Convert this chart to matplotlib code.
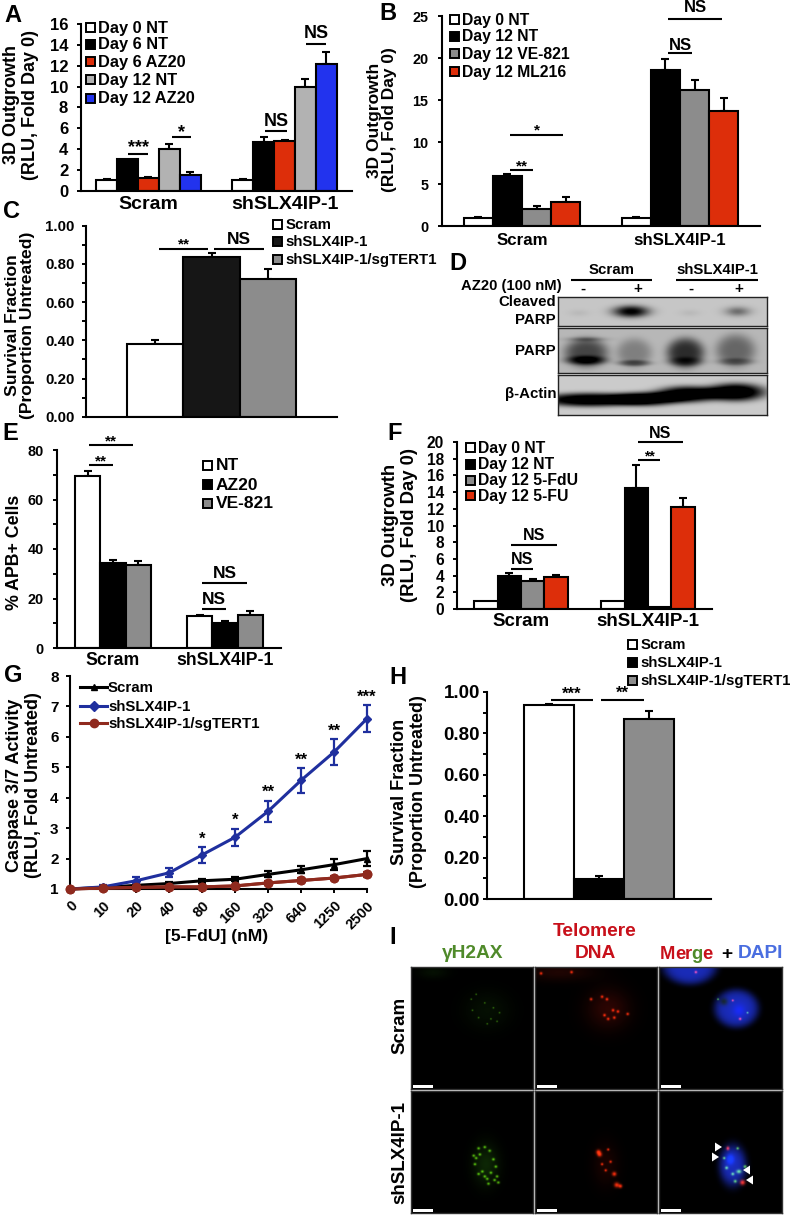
import matplotlib
matplotlib.use("Agg")
import matplotlib.pyplot as plt
from matplotlib.patches import Rectangle, Polygon
import numpy as np

plt.rcParams['font.family'] = ['Liberation Sans', 'DejaVu Sans']
plt.rcParams['font.weight'] = 'bold'

W, H = 791, 1216
RED = '#dd2e0a'
GRAY = '#8c8c8c'
LGRAY = '#b2b2b2'
BLUE = '#2233ee'

# panel A
a_groups = ['Scram', 'shSLX4IP-1']
a_labels = ['Day 0 NT', 'Day 6 NT', 'Day 6 AZ20', 'Day 12 NT', 'Day 12 AZ20']
a_colors = ['white', 'black', RED, LGRAY, BLUE]
a_vals = [[1.0, 3.0, 1.2, 4.0, 1.5], [1.0, 4.7, 4.8, 10.0, 12.2]]
a_errs = [[0.1, 0.0, 0.1, 0.5, 0.3], [0.1, 0.5, 0.1, 0.7, 1.1]]
# panel B
b_labels = ['Day 0 NT', 'Day 12 NT', 'Day 12 VE-821', 'Day 12 ML216']
b_colors = ['white', 'black', GRAY, RED]
b_vals = [[1.0, 5.9, 2.0, 2.9], [1.0, 18.6, 16.2, 13.7]]
b_errs = [[0.1, 0.3, 0.4, 0.6], [0.1, 1.3, 1.2, 1.5]]
# panels C, H
c_labels = ['Scram', 'shSLX4IP-1', 'shSLX4IP-1/sgTERT1']
c_colors = ['white', '#161616', GRAY]
c_vals = [0.38, 0.835, 0.72]
c_errs = [0.02, 0.02, 0.055]
h_colors = ['white', 'black', GRAY]
h_vals = [0.935, 0.097, 0.87]
h_errs = [0.005, 0.012, 0.04]
# panel E
e_labels = ['NT', 'AZ20', 'VE-821']
e_colors = ['white', 'black', GRAY]
e_vals = [[69.5, 34.5, 33.5], [13.0, 10.0, 13.5]]
e_errs = [[2.2, 1.0, 1.5], [0.5, 0.8, 1.5]]
# panel F
f_labels = ['Day 0 NT', 'Day 12 NT', 'Day 12 5-FdU', 'Day 12 5-FU']
f_colors = ['white', 'black', GRAY, RED]
f_vals = [[1.0, 4.0, 3.3, 3.8], [1.0, 14.5, 0.2, 12.2]]
f_errs = [[0.0, 0.3, 0.3, 0.3], [0.0, 2.7, 0.0, 1.1]]
# panel G
g_doses = ['0', '10', '20', '40', '80', '160', '320', '640', '1250', '2500']
g_scram = [1, 1.05, 1.12, 1.18, 1.27, 1.32, 1.48, 1.63, 1.8, 2.0]
g_scram_err = [0, 0.03, 0.05, 0.05, 0.06, 0.07, 0.1, 0.12, 0.18, 0.25]
g_sh = [1, 1.07, 1.27, 1.53, 2.12, 2.7, 3.55, 4.57, 5.5, 6.6]
g_sh_err = [0, 0.05, 0.12, 0.15, 0.25, 0.28, 0.35, 0.4, 0.42, 0.45]
g_sg = [1, 1.03, 1.05, 1.07, 1.07, 1.1, 1.2, 1.28, 1.36, 1.48]
g_sg_err = [0, 0.02, 0.03, 0.03, 0.03, 0.04, 0.05, 0.07, 0.07, 0.08]
g_stars = ['', '', '', '', '*', '*', '**', '**', '**', '***']

fig = plt.figure(figsize=(W / 100, H / 100), dpi=100)


def ax_px(l, t, r, b):
    ax = fig.add_axes([l / W, 1 - b / H, (r - l) / W, (b - t) / H])
    ax.patch.set_alpha(0)
    ax.spines['top'].set_visible(False)
    ax.spines['right'].set_visible(False)
    ax.spines['left'].set_linewidth(1.5)
    ax.spines['bottom'].set_linewidth(1.5)
    return ax


def style_y(ax, lim, major, minor=None, fmt=None, size=10, pad=5):
    ax.set_ylim(*lim)
    ax.set_yticks(major)
    if fmt:
        ax.set_yticklabels([fmt % v for v in major])
    if minor is not None:
        ax.set_yticks(minor, minor=True)
    ax.tick_params(axis='y', which='both', length=3.2, width=1.4, pad=pad, labelsize=size)


def bars(ax, x0, width, vals, errs, colors):
    n = len(vals)
    xs = [x0 + (i - (n - 1) / 2) * width for i in range(n)]
    ax.bar(xs, vals, width=width, color=colors, edgecolor='black', linewidth=1.5, zorder=2)
    for x, v, e in zip(xs, vals, errs):
        if e > 0:
            ax.errorbar(x, v, yerr=[[0], [e]], color='black', capsize=2.6, elinewidth=1.5,
                        capthick=1.5, zorder=1)


def group_panel(box, xlim, vals, errs, colors, width, groups, size=12, pad=5):
    ax = ax_px(*box)
    ax.set_xlim(*xlim)
    for i in range(2):
        bars(ax, i, width, vals[i], errs[i], colors)
    ax.set_xticks([0, 1])
    ax.set_xticklabels(groups, fontsize=size)
    ax.tick_params(axis='x', length=0, pad=pad)
    return ax


# A
ax = group_panel((81, 24, 352, 190.7), (-0.496, 1.496), a_vals, a_errs, a_colors, 0.153, a_groups, size=14, pad=4)
style_y(ax, (0, 16), range(0, 17, 2), size=12, pad=6)
# B
ax = group_panel((442, 16, 760, 226), (-0.506, 1.506), b_vals, b_errs, b_colors, 0.184, a_groups, size=12.2)
style_y(ax, (0, 25), range(0, 26, 5), size=10.4, pad=6.5)
# C
ax = ax_px(86, 225.7, 337, 416.7)
ax.set_xlim(-0.5, 0.5)
bars(ax, 0.0, 0.224, c_vals, c_errs, c_colors)
ax.set_xticks([])
style_y(ax, (0, 1), np.arange(0, 1.01, 0.2), np.arange(0, 1.01, 0.1), '%.2f', size=10.8, pad=5)
# E
ax = group_panel((57, 450, 281, 648), (-0.5, 1.5), e_vals, e_errs, e_colors, 0.225, a_groups, size=12.7, pad=3)
style_y(ax, (0, 80), range(0, 81, 20), range(0, 81, 10), size=10.4, pad=6.5)
# F
ax = group_panel((457, 442, 712, 609), (-0.504, 1.504), f_vals, f_errs, f_colors, 0.185, a_groups, size=13.5, pad=3)
style_y(ax, (0, 20), range(0, 21, 2), size=11.2, pad=6)
# H
ax = ax_px(487, 692, 711, 899)
ax.set_xlim(-0.5, 0.5)
bars(ax, 0.0, 0.223, h_vals, h_errs, h_colors)
ax.set_xticks([])
style_y(ax, (0, 1), np.arange(0, 1.01, 0.2), np.arange(0, 1.01, 0.1), '%.2f', size=13.5, pad=2)

# G
ax = ax_px(70, 676, 367, 889)
xs = np.arange(len(g_doses))
g_series = [(g_scram, g_scram_err, 'black', '^'), (g_sg, g_sg_err, '#8f2a1e', 'o'), (g_sh, g_sh_err, '#1f2f9e', 'D')]
for ys, es, col, mk in g_series:
    ax.errorbar(xs, ys, yerr=es, color=col, marker=mk, ms=6 if mk == 'o' else 4.5, lw=2.2,
                elinewidth=1.6, capsize=3, capthick=1.6, clip_on=False, zorder=3)
ax.plot(xs, g_sg, color='#8f2a1e', marker='o', ms=6, lw=2.2, clip_on=False, zorder=4)
for x, y, e, s in zip(xs, g_sh, g_sh_err, g_stars):
    if s:
        ax.text(x, y + e + 0.02, s, ha='center', va='bottom', fontsize=12, clip_on=False)
ax.set_xlim(0, 9)
ax.set_xticks(xs)
ax.set_xticklabels(g_doses, rotation=45, ha='right', rotation_mode='anchor', fontsize=10.5)
ax.tick_params(axis='x', length=3, width=1.4, pad=4)
style_y(ax, (1, 8), range(1, 9), size=11, pad=5)


def blob_img(w, h, bg, blobs):
    yy, xx = np.mgrid[0:h, 0:w]
    u = (xx + 0.5) / w
    v = (yy + 0.5) / h
    img = np.ones((h, w, 3)) * np.array(bg, dtype=float)
    for cx, cy, sx, sy, col, p in blobs:
        g = np.exp(-(((u - cx) / sx) ** 2 + ((v - cy) / sy) ** 2) ** p)
        img = img + g[..., None] * np.array(col, dtype=float)
    return np.clip(img, 0, 1)


def show(box, img, frame='#222222'):
    l, t, r, b = box
    a = fig.add_axes([l / W, 1 - b / H, (r - l) / W, (b - t) / H])
    a.imshow(img, aspect='auto', interpolation='bilinear')
    a.set_xticks([])
    a.set_yticks([])
    for sp in a.spines.values():
        sp.set_color(frame)
        sp.set_linewidth(1.0)
    return a


# D: western blot strips
dark = lambda k: (-k, -k, -k)
blot1 = [(0.35, 0.5, 0.085, 0.2, dark(0.8), 1.2), (0.86, 0.5, 0.06, 0.16, dark(0.35), 1),
         (0.1, 0.55, 0.05, 0.12, dark(0.05), 1), (0.63, 0.55, 0.05, 0.12, dark(0.05), 1)]
blot2 = [(0.135, 0.55, 0.105, 0.32, dark(0.45), 2), (0.135, 0.72, 0.1, 0.1, dark(0.4), 1.5),
         (0.135, 0.25, 0.09, 0.05, dark(0.2), 1),
         (0.365, 0.55, 0.085, 0.32, dark(0.22), 2), (0.365, 0.78, 0.08, 0.07, dark(0.3), 1.5),
         (0.61, 0.55, 0.09, 0.33, dark(0.55), 2), (0.61, 0.75, 0.09, 0.1, dark(0.2), 1.5),
         (0.85, 0.5, 0.095, 0.36, dark(0.32), 2), (0.85, 0.75, 0.09, 0.08, dark(0.2), 1.5)]
blot3 = [(0.15, 0.62, 0.24, 0.17, dark(0.95), 1.5), (0.42, 0.6, 0.16, 0.17, dark(0.9), 1.5),
         (0.62, 0.48, 0.15, 0.2, dark(0.95), 1.5), (0.85, 0.43, 0.14, 0.22, dark(1.0), 1.5)]
show((558, 297, 767, 326), blob_img(210, 30, (0.78, 0.78, 0.78), blot1))
show((558, 328, 767, 373), blob_img(210, 45, (0.72, 0.72, 0.72), blot2))
show((558, 375, 767, 415), blob_img(210, 40, (0.8, 0.8, 0.8), blot3))

# I: confocal panels
GR = (0.35, 0.75, 0.05)
RD = (0.95, 0.18, 0.05)
BL = (0.1, 0.17, 0.72)
green_a = [(0.62, 0.36, 0.18, 0.15, (0.02, 0.06, 0.01), 1), (0.18, 0.05, 0.12, 0.05, (0.02, 0.06, 0.01), 1)]
for x, y in [(0.49, 0.27), (0.53, 0.23), (0.6, 0.3), (0.67, 0.34), (0.72, 0.38), (0.65, 0.43), (0.55, 0.42), (0.5, 0.36), (0.62, 0.47), (0.7, 0.45)]:
    green_a.append((x, y, 0.006, 0.006, (0.25, 0.55, 0.05), 1))
red_spots_a = [(0.55, 0.25), (0.59, 0.27), (0.46, 0.27), (0.64, 0.36), (0.68, 0.37), (0.57, 0.4), (0.6, 0.43), (0.65, 0.42),
               (0.76, 0.39), (0.3, 0.05), (0.05, 0.06)]
red_a = [(x, y, 0.011, 0.011, RD, 1) for x, y in red_spots_a] + [(0.6, 0.35, 0.17, 0.16, (0.17, 0.02, 0.01), 1), (0.2, 0.05, 0.28, 0.07, (0.12, 0.02, 0.01), 1)]
merge_a = [(0.63, 0.345, 0.18, 0.155, BL, 3), (0.65, 0.36, 0.05, 0.05, (0.0, 0.0, 0.25), 1), (0.53, 0.29, 0.03, 0.03, (0, 0, -0.45), 1),
           (0.25, 0.0, 0.22, 0.15, BL, 3), (0.6, 0.28, 0.008, 0.008, RD, 1), (0.66, 0.43, 0.01, 0.01, RD, 1), (0.48, 0.27, 0.007, 0.007, GR, 1),
           (0.72, 0.38, 0.007, 0.007, GR, 1), (0.3, 0.05, 0.01, 0.01, RD, 1)]
green_b = [(0.61, 0.6, 0.1, 0.16, (0.05, 0.15, 0.02), 1)]
for x, y in [(0.55, 0.47), (0.6, 0.46), (0.64, 0.49), (0.53, 0.55), (0.58, 0.66), (0.65, 0.67), (0.7, 0.7), (0.62, 0.72), (0.69, 0.62),
             (0.56, 0.52), (0.51, 0.53), (0.63, 0.76), (0.71, 0.75), (0.55, 0.68), (0.67, 0.56), (0.52, 0.6), (0.68, 0.73), (0.6, 0.7)]:
    green_b.append((x, y, 0.011, 0.01, GR, 1))
red_b = [(0.58, 0.6, 0.1, 0.17, (0.1, 0.01, 0.0), 1)]
for x, y, s in [(0.52, 0.5, 0.018), (0.53, 0.52, 0.018), (0.6, 0.48, 0.01), (0.62, 0.58, 0.01), (0.65, 0.68, 0.017), (0.67, 0.77, 0.02),
                (0.7, 0.78, 0.015), (0.55, 0.6, 0.01), (0.58, 0.65, 0.01)]:
    red_b.append((x, y, s, s, RD, 1))
merge_b = [(0.6, 0.61, 0.11, 0.17, BL, 2), (0.58, 0.56, 0.03, 0.04, (0, 0.1, 0.5), 1), (0.65, 0.66, 0.02, 0.015, GR, 1),
           (0.68, 0.75, 0.02, 0.02, RD, 1), (0.56, 0.47, 0.012, 0.015, RD, 1), (0.62, 0.74, 0.012, 0.012, GR, 1), (0.55, 0.63, 0.012, 0.012, GR, 1),
           (0.7, 0.62, 0.012, 0.012, GR, 1), (0.6, 0.68, 0.012, 0.012, GR, 1), (0.64, 0.47, 0.01, 0.01, GR, 1), (0.53, 0.55, 0.01, 0.01, GR, 1)]
i_cols = [(411, 533), (535, 657), (659, 782)]
i_rows = [(967, 1089), (1091, 1213)]
i_imgs = [[green_a, red_a, merge_a], [green_b, red_b, merge_b]]
for (t, b), row in zip(i_rows, i_imgs):
    for (l, r), spots in zip(i_cols, row):
        show((l, t, r, b), blob_img(200, 200, (0, 0, 0), spots), frame='#333333')

# pixel overlay for every annotation
ov = fig.add_axes([0, 0, 1, 1], zorder=10)
ov.set_xlim(0, W)
ov.set_ylim(H, 0)
ov.axis('off')


def txt(x, y, s, size=10.5, ha='left', va='center', color='black', rot=0, **kw):
    return ov.text(x, y, s, fontsize=size, ha=ha, va=va, color=color, rotation=rot, linespacing=1.08, **kw)


def sig(x0, x1, y, s, ty, size=10.5):
    ov.plot([x0, x1], [y, y], color='black', lw=1.5, solid_capstyle='butt')
    txt((x0 + x1) / 2, ty, s, size=size, ha='center')


def legend(x, ys, labels, colors, size=10.5):
    for y, lab, col in zip(ys, labels, colors):
        ov.add_patch(Rectangle((x, y - 4.5), 9, 9, fc=col, ec='black', lw=1.4))
        txt(x + 12.5, y + 1, lab, size=size)


for (x, y, s) in [(13, 15, 'A'), (388, 13, 'B'), (12, 211, 'C'), (458, 264, 'D'), (10, 434, 'E'),
                  (395, 434, 'F'), (13, 676, 'G'), (398, 677, 'H'), (393, 938, 'I')]:
    txt(x, y, s, size=17, ha='center')

OUT = '3D Outgrowth\n(RLU, Fold Day 0)'
SURV = 'Survival Fraction\n(Proportion Untreated)'
txt(21, 105, OUT, size=13, ha='center', rot=90)
txt(382, 120, OUT, size=12.5, ha='center', rot=90)
txt(20, 325, SURV, size=12.6, ha='center', rot=90)
txt(15, 552, '% APB+ Cells', size=12.8, ha='center', rot=90)
txt(400, 525, OUT, size=13.3, ha='center', rot=90)
txt(24, 785, 'Caspase 3/7 Activity\n(RLU, Fold Untreated)', size=13, ha='center', rot=90)
txt(409, 792, SURV, size=13, ha='center', rot=90)
txt(217, 936, '[5-FdU] (nM)', size=12.6, ha='center')

legend(86, [27, 44, 61, 79, 98], a_labels, a_colors, size=11.8)
legend(450, [19, 36, 53, 71], b_labels, b_colors, size=11.3)
legend(273, [224, 241, 259], c_labels, c_colors, size=10.8)
legend(203, [465, 484, 503], e_labels, e_colors, size=12.5)
legend(466, [447, 464, 480, 495], f_labels, f_colors, size=11.3)
legend(628, [644, 662, 680], c_labels, h_colors, size=10.7)

sig(128, 148, 154, '***', 148, 13)
sig(172, 191, 137, '*', 133, 13)
sig(265, 287, 131, 'NS', 121, 13)
sig(306, 326, 44, 'NS', 34, 13)
sig(510, 563, 135, '*', 130, 11)
sig(510, 533, 170, '**', 166, 11)
sig(668, 692, 53, 'NS', 45, 12)
sig(668, 722, 19, 'NS', 8, 12)
sig(159, 208, 249, '**', 244, 11)
sig(214, 264, 249, 'NS', 239, 12.5)
sig(89, 133, 445, '**', 441, 11)
sig(89, 113, 465, '**', 461, 11)
sig(202, 247, 583, 'NS', 573, 12.5)
sig(202, 226, 609, 'NS', 600, 12.5)
sig(511, 557, 545, 'NS', 535, 11.5)
sig(511, 533, 569, 'NS', 560, 11.5)
sig(638, 660, 460, '**', 456, 10)
sig(638, 683, 442, 'NS', 433, 11.5)
sig(551, 593, 700, '***', 694, 12)
sig(601, 644, 700, '**', 693, 12)

# G legend
g_leg = [(687, 'black', '^', 'Scram'), (706, '#1f2f9e', 'D', 'shSLX4IP-1'), (723, '#8f2a1e', 'o', 'shSLX4IP-1/sgTERT1')]
for y, col, mk, lab in g_leg:
    ov.plot([80, 107], [y, y], color=col, lw=2.2)
    ov.plot([93.5], [y], color=col, marker=mk, ms=5 if mk != 'o' else 6)
    txt(108, y + 1, lab, size=10.8)

# D labels
sig(571, 652, 280, 'Scram', 270, 10.8)
sig(676, 758, 280, 'shSLX4IP-1', 270, 10.7)
txt(562, 286, 'AZ20 (100 nM)', size=10.7, ha='right')
for x, s in [(583, '-'), (638, '+'), (691, '-'), (739, '+')]:
    txt(x, 289, s, size=11, ha='center')
txt(556, 302, 'Cleaved', size=10.8, ha='right')
txt(556, 320, 'PARP', size=10.8, ha='right')
txt(556, 351, 'PARP', size=10.8, ha='right')
txt(556, 394, '\u03b2-Actin', size=10.8, ha='right')

# I labels
I_GREEN = '#4f8a2a'
I_RED = '#c8101a'
I_BLUE = '#4a6ee0'
txt(473, 954, '\u03b3H2AX', size=13.8, ha='center', color=I_GREEN)
txt(595, 932, 'Telomere', size=13.8, ha='center', color=I_RED)
txt(595, 954, 'DNA', size=13.8, ha='center', color=I_RED)
txt(400, 1025, 'Scram', size=13.5, ha='center', rot=90)
txt(400, 1153, 'shSLX4IP-1', size=13.5, ha='center', rot=90)
renderer = fig.canvas.get_renderer()
cx = 660
for s, col in [('M', I_RED), ('e', I_RED), ('r', I_RED), ('g', I_GREEN), ('e', I_RED)]:
    t = txt(cx, 959, s, size=13.2, color=col, va='baseline')
    cx += t.get_window_extent(renderer).width - 0.5
txt(727, 954, '+', size=13.8, ha='center')
txt(738, 954, 'DAPI', size=13.8, color=I_BLUE)

# scale bars and arrowheads in panel I
for l, r in i_cols:
    for t, b in i_rows:
        ov.add_patch(Rectangle((l + 2, b - 4), 20, 2.5, fc='white', ec='none'))
for x, y, d in [(715, 1147, 1), (712, 1157, 1), (750, 1170, -1), (753, 1180, -1)]:
    ov.add_patch(Polygon([(x, y - 4.5), (x, y + 4.5), (x + d * 7, y)], fc='white', ec='none'))

fig.savefig('out.png', dpi=100, facecolor='white')
